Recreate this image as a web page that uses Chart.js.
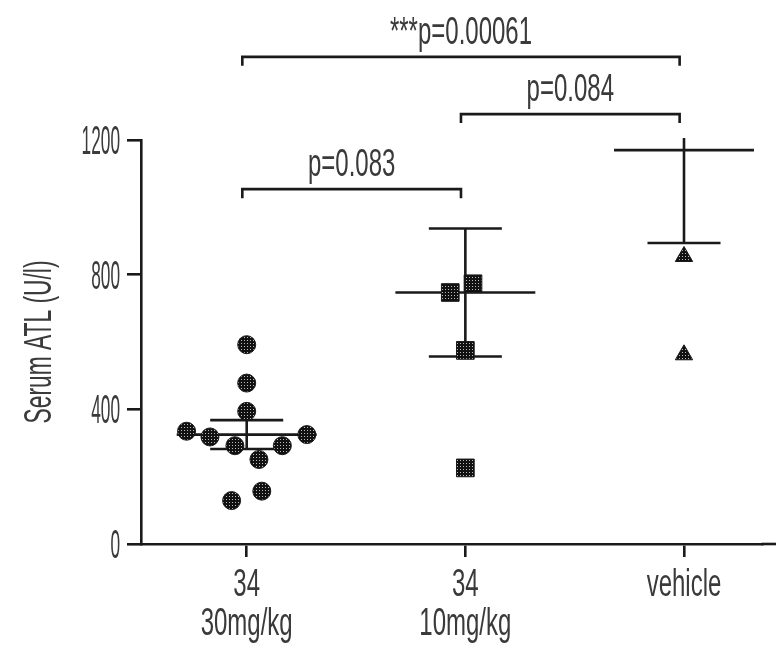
<!DOCTYPE html>
<html>
<head>
<meta charset="utf-8">
<script src="https://cdn.jsdelivr.net/npm/chart.js@4.4.0/dist/chart.umd.min.js"></script>
<style>
  html, body { margin: 0; padding: 0; background: #fff; overflow: hidden; }
  canvas { display: block; }
</style>
</head>
<body>
<canvas id="chart" width="776" height="660"></canvas>
<script>
// data
const groupLabels = [['34', '30mg/kg'], ['34', '10mg/kg'], ['vehicle']];
const groupTicks = [1, 2, 3];
const dose30Values = [592, 478, 394, 335, 318, 325, 292, 292, 251, 157, 129];
const dose30Jitter = [0, 0, 0, -0.275, -0.168, 0.275, -0.054, 0.163, 0.056, 0.069, -0.069];
const dose10Values = [773, 747, 575, 226];
const dose10Jitter = [0.035, -0.069, 0, 0];
const vehicleValues = [854, 562];
const vehicleJitter = [0, 0];
const groupMeans = [325, 747, 1170];
const groupSems = [43, 190, 276];
const yTicks = [0, 400, 800, 1200];
const yTitle = 'Serum ATL (U/l)';
const bracketFrom = [1, 2, 1];
const bracketTo = [2, 3, 3];
const bracketLevel = [1054, 1277, 1447];
const bracketText = ['p=0.083', 'p=0.084', '***p=0.00061'];

const INK = '#1a1a1a';
const TEXT = '#3a3a3a';
const FONT = '24px "Liberation Sans", Arial, sans-serif';

// halftone-ish fill like the printed markers
function dotPattern() {
  const c = document.createElement('canvas');
  c.width = 3; c.height = 3;
  const g = c.getContext('2d');
  g.fillStyle = '#111';
  g.fillRect(0, 0, 3, 3);
  g.fillStyle = '#bbb';
  g.fillRect(1, 1, 1, 1);
  return g.createPattern(c, 'repeat');
}

// the figure's lettering is tall and narrow
function tallText(ctx, text, x, y, align, sx, sy, rot) {
  ctx.save();
  ctx.translate(x, y);
  if (rot) ctx.rotate(rot);
  ctx.scale(sx, sy);
  ctx.font = FONT;
  ctx.fillStyle = TEXT;
  ctx.textAlign = align;
  ctx.textBaseline = 'alphabetic';
  ctx.fillText(text, 0, 0);
  ctx.restore();
}

const errorBars = {
  id: 'errorBars',
  beforeDatasetsDraw(chart) {
    const { ctx, chartArea, scales: { x, y } } = chart;
    ctx.save();
    ctx.beginPath();
    ctx.rect(chartArea.left, chartArea.top - 2, chartArea.right - chartArea.left, chartArea.bottom - chartArea.top + 2);
    ctx.clip();
    ctx.strokeStyle = INK;
    ctx.lineWidth = 2.6;
    groupMeans.forEach((m, g) => {
      const cx = x.getPixelForValue(g + 1);
      const wMean = x.getPixelForValue(g + 1 + 0.32) - cx;
      const wCap = x.getPixelForValue(g + 1 + 0.167) - cx;
      const yMean = y.getPixelForValue(m);
      const yLo = y.getPixelForValue(m - groupSems[g]);
      const yHiRaw = y.getPixelForValue(m + groupSems[g]);
      const yHi = Math.max(yHiRaw, chartArea.top - 2);
      ctx.beginPath();
      ctx.moveTo(cx, yHi); ctx.lineTo(cx, yLo);
      ctx.moveTo(cx - wMean, yMean); ctx.lineTo(cx + wMean, yMean);
      ctx.moveTo(cx - wCap, yLo); ctx.lineTo(cx + wCap, yLo);
      ctx.moveTo(cx - wCap, yHiRaw); ctx.lineTo(cx + wCap, yHiRaw);
      ctx.stroke();
    });
    ctx.restore();
  }
};

const annotations = {
  id: 'annotations',
  afterDraw(chart) {
    const { ctx, chartArea, scales: { x, y } } = chart;
    // clear the stray end mark under the axis, then run the axis line on to the edge
    ctx.save();
    ctx.fillStyle = '#fff';
    ctx.fillRect(chartArea.right - 30, chartArea.bottom + 2, chart.width - chartArea.right + 30, 22);
    ctx.strokeStyle = INK;
    ctx.lineWidth = 2.6;
    ctx.beginPath();
    ctx.moveTo(chartArea.right - 1, chartArea.bottom);
    ctx.lineTo(chart.width, chartArea.bottom);
    ctx.stroke();
    ctx.restore();
    // y tick labels
    y.ticks.forEach(t => tallText(ctx, String(t.value), 120, y.getPixelForValue(t.value) + 14, 'right', 0.72, 1.7));
    // category labels
    x.ticks.forEach(t => {
      const lines = groupLabels[t.value - 1];
      if (!lines) return;
      const px = x.getPixelForValue(t.value);
      lines.forEach((s, i) => tallText(ctx, s, px, 596 + i * 39, 'center', 1.0, 1.65));
    });
    // axis title
    tallText(ctx, yTitle, 38 + 13, (chartArea.top + chartArea.bottom) / 2, 'center', 0.95, 1.6, -Math.PI / 2);
    // significance brackets
    ctx.save();
    ctx.strokeStyle = INK;
    ctx.lineWidth = 2.6;
    bracketLevel.forEach((lv, i) => {
      const x1 = x.getPixelForValue(bracketFrom[i] - 0.02);
      const x2 = x.getPixelForValue(bracketTo[i] - 0.02);
      const by = y.getPixelForValue(lv);
      ctx.beginPath();
      ctx.moveTo(x1, by + 9); ctx.lineTo(x1, by); ctx.lineTo(x2, by); ctx.lineTo(x2, by + 9);
      ctx.stroke();
      tallText(ctx, bracketText[i], (x1 + x2) / 2, by - 13, 'center', 1.0, 1.65);
    });
    ctx.restore();
  }
};

const fill = dotPattern();
const groupValues = [dose30Values, dose10Values, vehicleValues];
const groupJitter = [dose30Jitter, dose10Jitter, vehicleJitter];
const markerStyles = ['circle', 'rect', 'triangle'];
const markerRadius = [9, 12.5, 10];

// invisible axis titles only reserve the room the lettering needs
const spacer = (text, pad) => ({ display: true, text, color: 'rgba(0,0,0,0)', font: { size: 10, lineHeight: 1.2 }, padding: { top: 0, bottom: pad } });
// tick marks only where the figure has them
const tickInk = list => c => (c.tick && list.includes(c.tick.value)) ? INK : 'rgba(0,0,0,0)';

new Chart(document.getElementById('chart'), {
  type: 'scatter',
  data: {
    datasets: groupValues.map((vals, g) => ({
      data: vals.map((v, i) => ({ x: g + 1 + groupJitter[g][i], y: v })),
      pointStyle: markerStyles[g],
      pointRadius: markerRadius[g],
      pointHoverRadius: markerRadius[g],
      backgroundColor: fill,
      borderColor: INK,
      borderWidth: 1
    }))
  },
  options: {
    responsive: false,
    animation: false,
    layout: { padding: { top: 140, left: 0, right: 0, bottom: 0 } },
    scales: {
      x: {
        type: 'linear', min: 0.5166, max: 3.359,
        afterBuildTicks: s => { s.ticks = groupTicks.map(v => ({ value: v })); },
        ticks: { display: false },
        title: spacer('group', 91),
        grid: { drawOnChartArea: false, drawTicks: true, tickLength: 13, color: tickInk(groupTicks), lineWidth: 2.6 },
        border: { display: true, color: INK, width: 2.6 }
      },
      y: {
        min: 0, max: 1200,
        afterBuildTicks: s => { s.ticks = yTicks.map(v => ({ value: v })); },
        ticks: { display: false },
        title: spacer(yTitle, 115),
        grid: { drawOnChartArea: false, drawTicks: true, tickLength: 14, color: tickInk(yTicks), lineWidth: 2.6 },
        border: { display: true, color: INK, width: 2.6 }
      }
    },
    plugins: { legend: { display: false }, tooltip: { enabled: false } }
  },
  plugins: [errorBars, annotations]
});
</script>
</body>
</html>
